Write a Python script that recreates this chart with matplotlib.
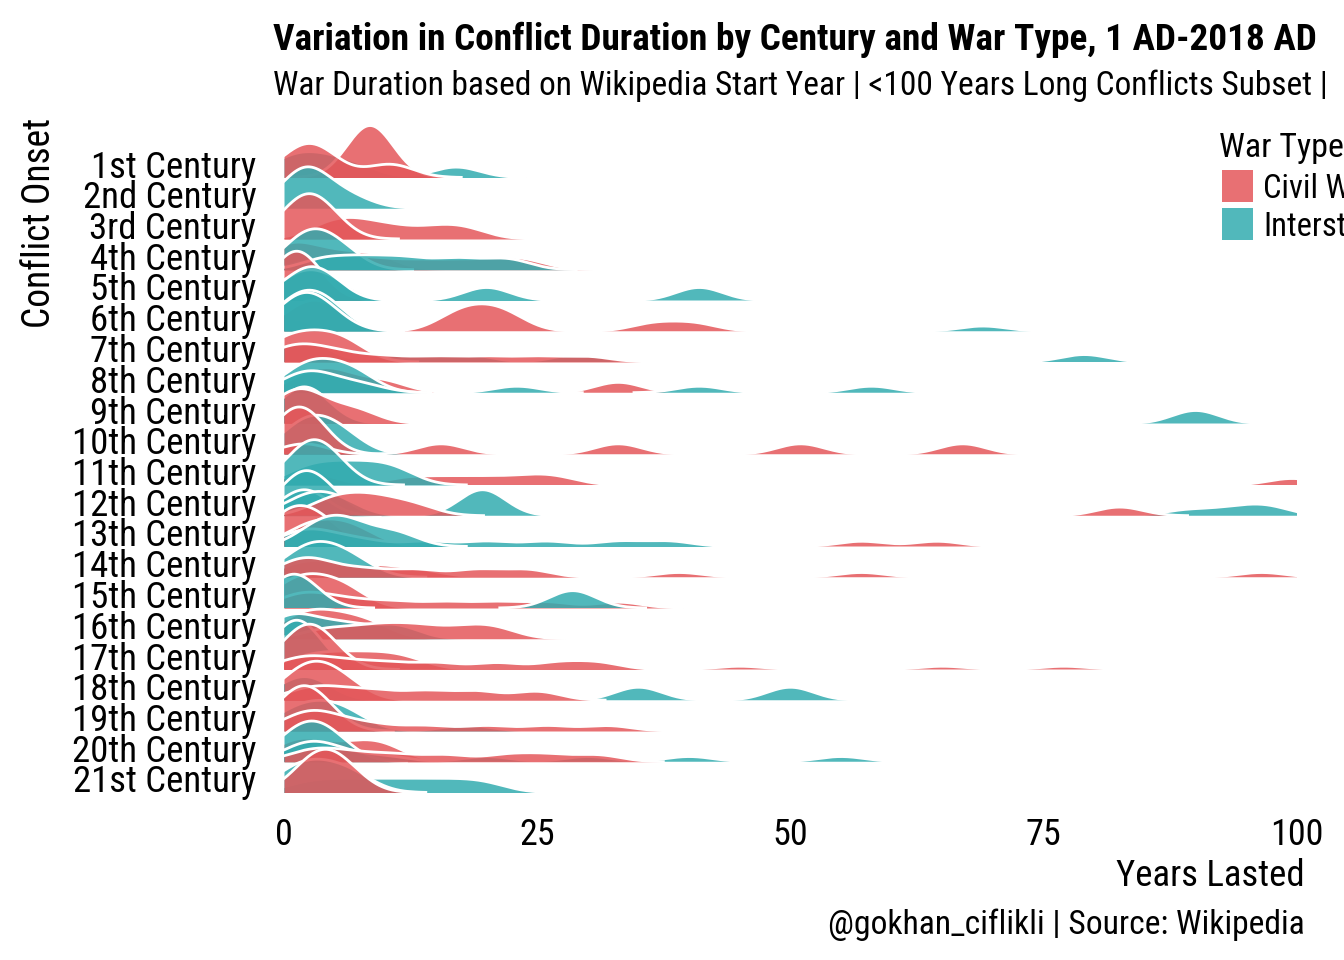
import numpy as np
import matplotlib
matplotlib.use("Agg")
import matplotlib.pyplot as plt
from matplotlib.patches import Rectangle

plt.rcParams["font.family"] = ["Roboto Condensed", "Roboto", "DejaVu Sans"]

centuries = ["1st Century", "2nd Century", "3rd Century", "4th Century", "5th Century",
             "6th Century", "7th Century", "8th Century", "9th Century", "10th Century",
             "11th Century", "12th Century", "13th Century", "14th Century", "15th Century",
             "16th Century", "17th Century", "18th Century", "19th Century", "20th Century",
             "21st Century"]
war_types = ["Civil War", "Interstate"]
x_ticks = [0, 25, 50, 75, 100]

# one ridge per group of conflicts: onset century, war type, years lasted
group_century = [1, 1, 1,
                 2,
                 3, 3,
                 4, 4, 4, 4,
                 5, 5, 5,
                 6, 6, 6, 6,
                 7, 7, 7,
                 8, 8, 8,
                 9, 9,
                 10, 10, 10,
                 11, 11, 11,
                 12, 12, 12, 12,
                 13, 13, 13, 13,
                 14, 14, 14,
                 15, 15, 15,
                 16, 16, 16,
                 17, 17, 17, 17,
                 18, 18, 18,
                 19, 19, 19,
                 20, 20, 20, 20,
                 21, 21, 21]
group_type = ["I", "C", "C",
              "I",
              "C", "C",
              "C", "C", "I", "I",
              "C", "I", "I",
              "C", "C", "I", "I",
              "I", "C", "C",
              "C", "I", "I",
              "I", "C",
              "I", "C", "C",
              "C", "I", "I",
              "I", "I", "I", "C",
              "C", "C", "I", "I",
              "C", "I", "C",
              "C", "C", "I",
              "C", "I", "C",
              "I", "C", "C", "C",
              "I", "C", "C",
              "I", "C", "C",
              "C", "I", "I", "C",
              "I", "I", "C"]
group_years = [
    [0, 2, 4, 7, 17], [8.5], [1, 2.5, 4, 10.5],
    [1, 2, 2.5, 3, 6.5],
    [4, 6, 8, 11, 15, 18], [1, 2.5, 4],
    [0, 1.5, 5, 9], [3, 6, 9, 13, 17, 21, 24], [1.5, 3, 5.5], [4, 8, 12, 17, 22],
    [0.5, 2], [1, 2.5, 5, 20], [1, 3, 4, 41],
    [0.5, 17, 19.5, 22], [1, 2, 3, 4, 5, 36.5, 40.5], [0.5, 2.5, 4.5],
    [0, 1, 1, 2, 2, 3, 3, 4, 5, 69],
    [1, 2, 3, 12, 18, 29, 79], [0, 3, 6], [0, 1, 2, 4, 6, 10, 15, 20, 25, 30],
    [2, 4, 6, 10, 33], [1.5, 4, 7], [1, 2, 3, 5, 8, 23, 41, 58],
    [1, 2, 3, 90], [0, 1.5, 3, 7],
    [1, 2.5, 4, 6], [0.5, 2.5], [2, 15.5, 33, 51, 67],
    [2, 3, 12, 16, 20, 24, 27, 99.5], [2, 5, 8, 11], [1.5, 3, 4.5],
    [1, 2, 4], [2, 19.6], [1, 2, 3, 4, 5, 6, 89, 93, 96, 97.5], [4, 6, 8, 10, 13, 82.5],
    [0, 1.5, 4], [1, 2, 3, 4, 5, 6, 7, 8, 57, 64.5], [1, 2, 3, 5, 8, 14, 20, 26, 33, 38],
    [3, 5, 7, 11],
    [1, 2, 3, 5, 7, 9, 11, 14, 39, 57, 96.5], [1, 3, 4.5, 7], [1, 2, 4, 8, 13, 19, 24],
    [0.5, 3, 6], [1, 2, 4, 7, 11, 16, 21, 26, 33], [0.5, 1.5, 28.5],
    [0.5, 2, 3.5, 5, 7, 9], [0, 2, 6, 11], [4, 8, 11, 14, 18, 21],
    [0.5, 2], [1, 2, 3, 4, 5, 6, 7, 8, 9, 10, 11, 12, 13, 45, 65, 77], [1, 2.5, 4],
    [1, 3, 6, 10, 15, 21, 27, 31],
    [1, 3, 35, 50], [1, 2.5, 4, 6], [2, 5, 9, 14, 19, 25],
    [0, 1, 2, 3, 4, 5, 6, 7, 18], [0.5, 2, 3.5], [1, 2, 3, 4, 6, 9, 14, 20, 26, 32],
    [0.5, 3, 7, 10], [0.5, 2, 3.5, 5], [1, 2, 3, 4, 6, 10, 20, 30, 40, 55],
    [2, 4, 7, 11, 16, 22, 26, 31],
    [2, 5, 8, 11, 14, 17, 20], [0.5, 2.5, 4.5, 7], [2.5, 4, 6],
]

colors = {"C": "#E4575A", "I": "#33ACB0"}
ALPHA = 0.85
BW = 2.3        # kernel bandwidth, years
PEAK = 1.69     # ridge height of a lone conflict, in rows

fig = plt.figure(figsize=(13.44, 9.6), dpi=100)
ax = fig.add_axes([284 / 1344, 1 - 800 / 960, (1297 - 284) / 1344, 690 / 960])

x = np.linspace(0, 100, 2001)
n_rows = len(centuries)
order = sorted(range(len(group_years)), key=lambda g: group_century[g])
for z, g in enumerate(order):
    base = n_rows - group_century[g]
    v = np.asarray(group_years[g], dtype=float)
    h = np.exp(-0.5 * ((x[:, None] - v[None, :]) / BW) ** 2).mean(axis=1) * PEAK
    show = h > 0.004
    ax.fill_between(x, base, base + h, where=show, color=colors[group_type[g]],
                    alpha=ALPHA, lw=0, zorder=2 * z + 2)
    ax.plot(x, np.where(show, base + h, np.nan), color="white", lw=2.0,
            zorder=2 * z + 3)

ax.set_xlim(0, 100)
ax.set_ylim(-7.5 / 30.75, (792.5 - 110) / 30.75)
ax.set_xticks(x_ticks)
ax.set_xticklabels([str(t) for t in x_ticks])
ax.set_yticks([n_rows - i - 1 for i in range(n_rows)])
ax.set_yticklabels(centuries)
for lab in ax.get_yticklabels():
    lab.set_verticalalignment("baseline")
ax.tick_params(axis="y", length=0, pad=20, labelsize=26.5)
ax.tick_params(axis="x", length=0, pad=12, labelsize=26)
for s in ax.spines.values():
    s.set_visible(False)

fig.text(273 / 1344, 1 - 50 / 960,
         "Variation in Conflict Duration by Century and War Type, 1 AD-2018 AD",
         fontsize=26.8, fontweight="bold", va="baseline")
fig.text(273 / 1344, 1 - 95 / 960,
         "War Duration based on Wikipedia Start Year | <100 Years Long Conflicts Subset |",
         fontsize=24, va="baseline")
fig.text(40 / 1344, 1 - 118 / 960, "Conflict Onset", rotation=90,
         ha="center", va="top", fontsize=27)
fig.text(1305 / 1344, 1 - 886 / 960, "Years Lasted", ha="right", va="baseline",
         fontsize=26.5)
fig.text(1305 / 1344, 1 - 934 / 960, "@gokhan_ciflikli | Source: Wikipedia",
         ha="right", va="baseline", fontsize=24.2)

# legend
fig.text(1219 / 1344, 1 - 157 / 960, "War Type", fontsize=24.5, va="baseline")
for j, (code, name) in enumerate(zip(["C", "I"], war_types)):
    top = 170 + 38 * j
    fig.add_artist(Rectangle((1222 / 1344, 1 - (top + 32) / 960), 31 / 1344, 32 / 960,
                             transform=fig.transFigure, color=colors[code],
                             alpha=ALPHA, lw=0))
    fig.text(1263 / 1344, 1 - (top + 16) / 960, name, fontsize=23.5,
             va="center_baseline")

fig.savefig("out.png", dpi=100)
